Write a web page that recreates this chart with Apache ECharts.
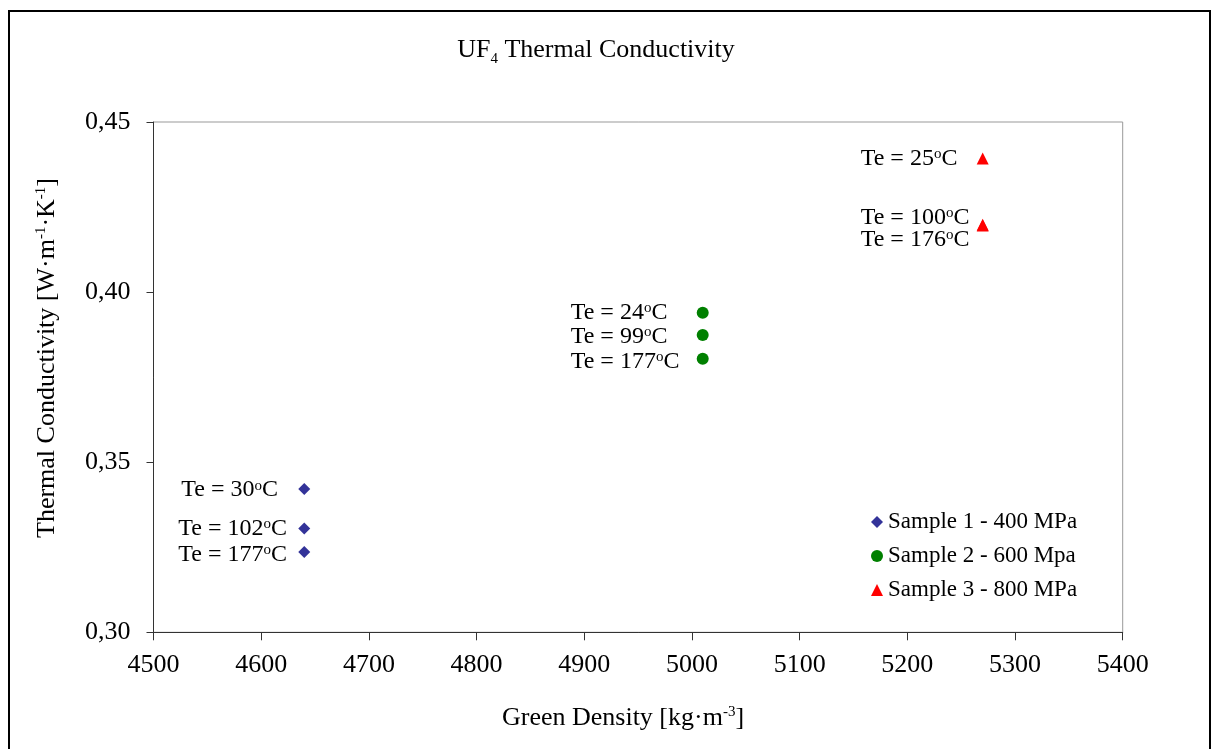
<!DOCTYPE html>
<html>
<head>
<meta charset="utf-8">
<script src="https://cdn.jsdelivr.net/npm/echarts@6/dist/echarts.min.js"></script>
<style>html,body{margin:0;padding:0;background:#fff}#chart{width:1212px;height:749px}</style>
</head>
<body>
<div id="chart"></div>
<script>
const seriesNames = ['Sample 1 - 400 MPa', 'Sample 2 - 600 Mpa', 'Sample 3 - 800 MPa'];
const sample1Density = [4640, 4640, 4640];
const sample1Conductivity = [0.3421, 0.3305, 0.3236];
const sample1Temps = [30, 102, 177];
const sample2Density = [5010, 5010, 5010];
const sample2Conductivity = [0.3939, 0.3874, 0.3804];
const sample2Temps = [24, 99, 177];
const sample3Density = [5270, 5270, 5270];
const sample3Conductivity = [0.4393, 0.4198, 0.4196];
const sample3Temps = [25, 100, 176];
const xRange = [4500, 5400, 100];
const yRange = [0.30, 0.45, 0.05];

const FONT = 'Liberation Serif, Times New Roman, serif';
const colors = ['#333399', '#008000', '#FF0000'];
const symbols = ['diamond', 'circle', 'triangle'];
const SYM = 12;
// label placement (pixel shift of label left edge / middle from point centre)
const labelShift = [
  [[-123, 1], [-126, 0], [-126, 3]],
  [[-132, 0], [-132, 2], [-132, 3]],
  [[-122, 0.5], [-122, -7.5], [-122, 14.5]]
];
const groups = [
  [sample1Density, sample1Conductivity, sample1Temps],
  [sample2Density, sample2Conductivity, sample2Temps],
  [sample3Density, sample3Conductivity, sample3Temps]
];

const series = groups.map((g, si) => ({
  type: 'scatter',
  name: seriesNames[si],
  symbol: symbols[si],
  symbolSize: SYM,
  itemStyle: { color: colors[si], opacity: 1 },
  emphasis: { disabled: true },
  data: g[0].map((x, i) => ({
    value: [x, g[1][i]],
    label: {
      show: true,
      position: [labelShift[si][i][0] + SYM / 2, labelShift[si][i][1] + SYM / 2],
      align: 'left',
      verticalAlign: 'middle',
      formatter: 'Te = ' + g[2][i] + '{sup|o}C',
      fontFamily: FONT,
      fontSize: 24,
      color: '#000',
      rich: { sup: { fontFamily: FONT, fontSize: 15, verticalAlign: 'top', color: '#000' } }
    }
  }))
}));

const chart = echarts.init(document.getElementById('chart'), null, { renderer: 'canvas' });
chart.setOption({
  animation: false,
  backgroundColor: '#fff',
  grid: { left: 153.5, right: 89.3, top: 122, bottom: 116.7, show: true, borderColor: '#999', borderWidth: 1, backgroundColor: 'transparent' },
  xAxis: {
    type: 'value', min: xRange[0], max: xRange[1], interval: xRange[2],
    splitLine: { show: false },
    axisLine: { show: true, onZero: false, lineStyle: { color: '#333', width: 1 } },
    axisTick: { show: true, length: 8, lineStyle: { color: '#333' } },
    axisLabel: { fontFamily: FONT, fontSize: 26, color: '#000', margin: 20, formatter: v => String(v) }
  },
  yAxis: {
    type: 'value', min: yRange[0], max: yRange[1], interval: yRange[2],
    splitLine: { show: false },
    axisLine: { show: true, onZero: false, lineStyle: { color: '#333', width: 1 } },
    axisTick: { show: true, length: 7, lineStyle: { color: '#333' } },
    axisLabel: { fontFamily: FONT, fontSize: 26, color: '#000', margin: 23,
      formatter: v => v.toFixed(2).replace('.', ',') }
  },
  legend: {
    orient: 'vertical', left: 866, top: 505,
    itemWidth: 12, itemHeight: 12, itemGap: 10,
    textStyle: { fontFamily: FONT, fontSize: 23, color: '#000', lineHeight: 24 },
    data: seriesNames.map((n, i) => ({ name: n, icon: symbols[i] })),
    selectedMode: false
  },
  graphic: [
    { type: 'rect', silent: true, shape: { x: 9, y: 11, width: 1201, height: 800 },
      style: { fill: 'none', stroke: '#000', lineWidth: 2 } },
    { type: 'text', x: 596, y: 50,
      style: { text: 'UF{sub|4} Thermal Conductivity', fontFamily: FONT, fontSize: 26, fill: '#000',
        align: 'center', verticalAlign: 'middle',
        rich: { sub: { fontFamily: FONT, fontSize: 15, verticalAlign: 'bottom', padding: [0, 0, -4, 0] } } } },
    { type: 'text', x: 623, y: 718,
      style: { text: 'Green Density [kg·m{sup|-3}]', fontFamily: FONT, fontSize: 26, fill: '#000',
        align: 'center', verticalAlign: 'middle',
        rich: { sup: { fontFamily: FONT, fontSize: 15, verticalAlign: 'top' } } } },
    { type: 'text', x: 47, y: 358, rotation: Math.PI / 2,
      style: { text: 'Thermal Conductivity [W·m{sup|-1}·K{sup|-1}]', fontFamily: FONT, fontSize: 26, fill: '#000',
        align: 'center', verticalAlign: 'middle',
        rich: { sup: { fontFamily: FONT, fontSize: 15, verticalAlign: 'top' } } } }
  ],
  series: series
});
</script>
</body>
</html>
